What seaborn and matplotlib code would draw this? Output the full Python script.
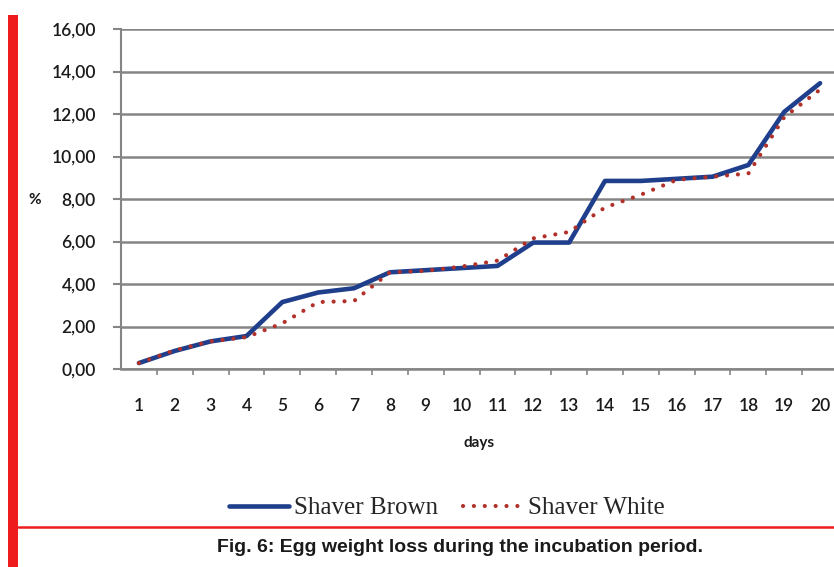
import numpy as np
import pandas as pd
import matplotlib.pyplot as plt
import matplotlib.lines as mlines
import matplotlib.patches as mpatches
import seaborn as sns

# --- Data ---
days = list(range(1, 21))
shaver_brown = [0.28, 0.85, 1.30, 1.55, 3.15, 3.60, 3.80, 4.55, 4.65, 4.75,
                4.85, 5.95, 5.95, 8.85, 8.85, 8.95, 9.05, 9.60, 12.10, 13.45]
shaver_white = [0.28, 0.88, 1.30, 1.50, 2.15, 3.15, 3.20, 4.55, 4.62, 4.82,
                5.10, 6.15, 6.45, 7.60, 8.20, 8.90, 9.05, 9.20, 11.85, 13.15]
y_ticks = [0, 2, 4, 6, 8, 10, 12, 14, 16]

df = pd.DataFrame({"day": days, "Shaver Brown": shaver_brown, "Shaver White": shaver_white})

# --- Style ---
sns.set_theme(style="white")
plt.rcParams["font.family"] = ["Lato", "DejaVu Sans"]

BLUE = "#1f3f8c"
RED = "#b2302a"
GRID = "#858585"
FRAME_RED = "#ee1c1c"
TXT = "#1a1a1a"

W, H = 834, 567
fig = plt.figure(figsize=(W / 100, H / 100), dpi=100)
fig.patch.set_facecolor("white")
ax = fig.add_axes([121 / W, 1 - 369 / H, 717 / W, 340 / H])

sns.lineplot(data=df, x="day", y="Shaver Brown", ax=ax, color=BLUE, lw=3.3,
             solid_capstyle="round", zorder=4)
sns.lineplot(data=df, x="day", y="Shaver White", ax=ax, color=RED, lw=3.0,
             linestyle=(0, (0.01, 2.6)), dash_capstyle="round", zorder=5)

ax.set_xlim(0.5, 20.5)
ax.set_ylim(0, 16)
ax.set_yticks(y_ticks)
ax.set_yticklabels([f"{v:.2f}".replace(".", ",") for v in y_ticks],
                   fontsize=12.5, color=TXT, fontweight="semibold")
ax.set_xticks(days)
ax.set_xticklabels([str(d) for d in days], fontsize=12.5, color=TXT,
                   fontweight="semibold")
ax.set_xticks(np.arange(1.5, 20.5, 1), minor=True)
ax.tick_params(axis="x", which="major", length=0, pad=21)
ax.tick_params(axis="x", which="minor", length=4, color=GRID, width=1.2, bottom=True)
ax.tick_params(axis="y", which="major", length=6, color=GRID, width=1.5, left=True, pad=12)

ax.yaxis.grid(True, color=GRID, lw=1.8, zorder=0)
ax.xaxis.grid(False)
for side in ["top", "right"]:
    ax.spines[side].set_visible(False)
ax.spines["left"].set_color(GRID)
ax.spines["left"].set_linewidth(1.5)
ax.spines["bottom"].set_color(GRID)
ax.spines["bottom"].set_linewidth(1.8)

ax.set_xlabel("days", fontsize=11, fontweight="bold", labelpad=16, color=TXT)
ax.set_ylabel("")
fig.text(35 / W, 1 - 200 / H, "%", fontsize=11, fontweight="bold",
         ha="center", va="center", color=TXT)

# --- Legend ---
h1 = mlines.Line2D([], [], color=BLUE, lw=3.3)
h2 = mlines.Line2D([], [], color=RED, lw=3.0, linestyle=(0, (0.01, 2.6)),
                   dash_capstyle="round")
fig.legend([h1, h2], ["Shaver Brown", "Shaver White"], loc="center",
           bbox_to_anchor=(447 / W, 1 - 508 / H), ncol=2, frameon=False,
           prop={"family": "Liberation Serif", "size": 18},
           handlelength=2.4, handletextpad=0.2, columnspacing=1.0)

# --- Page decoration: red bar, red rule, caption ---
fig.add_artist(mpatches.Rectangle((8 / W, 0), 10 / W, 1 - 15 / H,
                                  transform=fig.transFigure, color=FRAME_RED, lw=0))
fig.add_artist(mlines.Line2D([18 / W, 1], [1 - 527 / H, 1 - 527 / H],
                             transform=fig.transFigure, color=FRAME_RED, lw=1.8))
fig.text(460 / W, 1 - 547 / H, "Fig. 6: Egg weight loss during the incubation period.",
         fontsize=14, fontweight="bold", family="Liberation Sans",
         ha="center", va="center", color=TXT)

fig.savefig("out.png", dpi=100)
